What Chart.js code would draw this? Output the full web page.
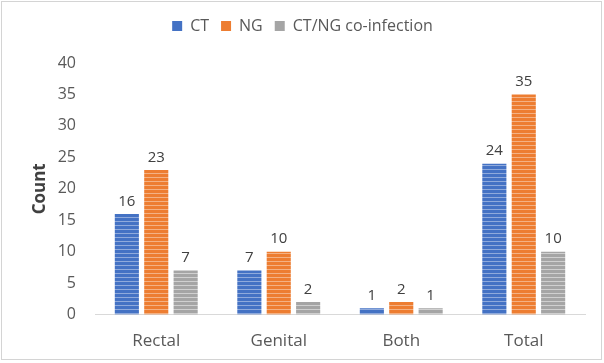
<!DOCTYPE html>
<html>
<head>
<meta charset="utf-8">
<script src="https://cdn.jsdelivr.net/npm/chart.js@4/dist/chart.umd.min.js"></script>
<style>
  html, body { margin: 0; padding: 0; background: #fff; }
  #wrap { position: relative; width: 604px; height: 363px; }
  #frame { position: absolute; left: 1px; top: 1px; width: 599px; height: 357px; border: 1px solid #d4d4d4; pointer-events: none; }
</style>
</head>
<body>
<div id="wrap">
  <canvas id="chart" width="604" height="363"></canvas>
  <div id="frame"></div>
</div>
<script>
// datos
const categorias = ["Rectal", "Genital", "Both", "Total"];
const serieCT = [16, 7, 1, 24];
const serieNG = [23, 10, 2, 35];
const serieCoinf = [7, 2, 1, 10];
const etiquetasSeries = ["CT", "NG", "CT/NG co-infection"];
const yMax = 40;
const yPaso = 5;

// rayas horizontales como en el original
function rayas(base, claro) {
  var c = document.createElement("canvas");
  c.width = 4;
  c.height = 4;
  var g = c.getContext("2d");
  g.fillStyle = base;
  g.fillRect(0, 0, 4, 4);
  g.fillStyle = claro;
  g.fillRect(0, 1, 4, 1);
  return g.createPattern(c, "repeat");
}

const colores = ["#4472C4", "#ED7D31", "#A5A5A5"];
const claros = ["#8FAADC", "#F4B183", "#D0D0D0"];

// valores encima de cada barra
const etiquetasValor = {
  id: "etiquetasValor",
  afterDatasetsDraw(chart) {
    const ctx = chart.ctx;
    ctx.save();
    ctx.font = "15px 'Open Sans'";
    ctx.fillStyle = "#404040";
    ctx.textAlign = "center";
    ctx.textBaseline = "bottom";
    chart.data.datasets.forEach((ds, i) => {
      chart.getDatasetMeta(i).data.forEach((bar, j) => {
        ctx.fillText(ds.data[j], bar.x, bar.y - 5);
      });
    });
    ctx.restore();
  },
};

// espacio extra debajo de la leyenda
const margenLeyenda = {
  id: "margenLeyenda",
  beforeInit(chart) {
    const fitOriginal = chart.legend.fit;
    chart.legend.fit = function () {
      fitOriginal.bind(chart.legend)();
      this.height += 19;
    };
  },
};

var ctx = document.getElementById("chart").getContext("2d");
var grafico = new Chart(ctx, {
  type: "bar",
  data: {
    labels: categorias,
    datasets: [serieCT, serieNG, serieCoinf].map((d, i) => ({
      label: etiquetasSeries[i],
      data: d,
      backgroundColor: rayas(colores[i], claros[i]),
      borderWidth: 0,
      categoryPercentage: 0.72,
      barPercentage: 0.82,
    })),
  },
  options: {
    responsive: false,
    animation: false,
    layout: {
      padding: { left: 20, right: 19, top: 6, bottom: -4 },
    },
    scales: {
      x: {
        grid: { display: false, drawTicks: false },
        border: { color: "#D9D9D9", width: 1 },
        ticks: {
          color: "#595959",
          font: { family: "'Open Sans'", size: 17 },
          padding: 16,
        },
      },
      y: {
        min: 0,
        max: yMax,
        afterFit: function (scale) {
          scale.width = 75;
        },
        grid: { display: false, drawTicks: false },
        border: { display: false },
        ticks: {
          stepSize: yPaso,
          color: "#595959",
          font: { family: "'Open Sans'", size: 16 },
          padding: 19,
        },
        title: {
          display: true,
          text: "Count",
          color: "#404040",
          font: { family: "'Open Sans'", size: 17, weight: "bold" },
          padding: { top: 10, bottom: 0 },
        },
      },
    },
    plugins: {
      legend: {
        position: "top",
        labels: {
          boxWidth: 10,
          boxHeight: 10,
          color: "#595959",
          font: { family: "'Open Sans'", size: 16 },
          padding: 12,
          generateLabels: function (chart) {
            return chart.data.datasets.map((ds, i) => ({
              text: ds.label,
              fillStyle: colores[i],
              strokeStyle: colores[i],
              lineWidth: 0,
              datasetIndex: i,
              fontColor: "#595959",
            }));
          },
        },
      },
      tooltip: { enabled: false },
    },
  },
  plugins: [etiquetasValor, margenLeyenda],
});
</script>
</body>
</html>
